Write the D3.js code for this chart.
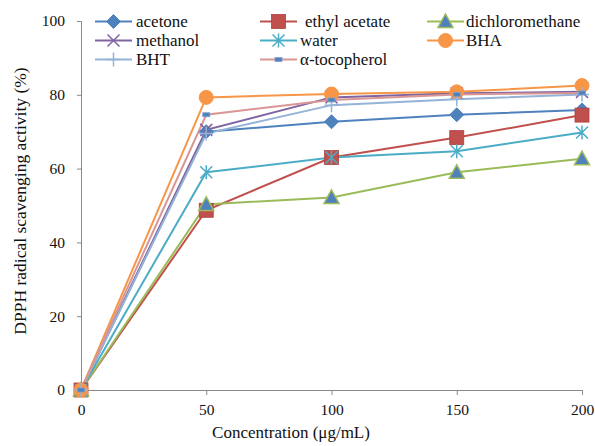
<!DOCTYPE html>
<html><head><meta charset="utf-8">
<script src="https://cdn.jsdelivr.net/npm/d3@7"></script>
<style>body{margin:0;background:#fff}svg{display:block}
svg text{font-family:"Liberation Serif","Tinos","Times New Roman","DejaVu Serif",serif !important}</style>
</head><body>
<script>
const concentrations = [0, 50, 100, 150, 200];
const seriesNames = ["acetone", "ethyl acetate", "dichloromethane", "methanol", "water", "BHA", "BHT", "α-tocopherol"];
const acetone = [0, 70.0, 72.7, 74.6, 75.9];
const ethylAcetate = [0, 48.7, 63.0, 68.4, 74.5];
const dichloromethane = [0, 50.3, 52.2, 59.0, 62.7];
const methanol = [0, 70.5, 79.3, 80.4, 80.8];
const water = [0, 59.0, 63.0, 64.7, 69.8];
const bha = [0, 79.3, 80.2, 80.8, 82.5];
const bht = [0, 69.5, 77.2, 78.8, 80.1];
const tocopherol = [0, 74.6, 78.6, 80.1, 80.5];
const yTicks = [0, 20, 40, 60, 80, 100];
const xTicks = [0, 50, 100, 150, 200];

const series = [
  {name: seriesNames[0], values: acetone, color: "#4F81BD", marker: "diamond", fill: "#4F81BD"},
  {name: seriesNames[1], values: ethylAcetate, color: "#C0504D", marker: "square", fill: "#C0504D"},
  {name: seriesNames[2], values: dichloromethane, color: "#9BBB59", marker: "triangle", fill: "#4F81BD"},
  {name: seriesNames[3], values: methanol, color: "#8064A2", marker: "x", fill: "none"},
  {name: seriesNames[4], values: water, color: "#4BACC6", marker: "star", fill: "none"},
  {name: seriesNames[5], values: bha, color: "#F79646", marker: "circle", fill: "#F79646"},
  {name: seriesNames[6], values: bht, color: "#95B3D7", marker: "plus", fill: "none"},
  {name: seriesNames[7], values: tocopherol, color: "#D99694", marker: "dash", fill: "#4F81BD"}
];

const W = 595, H = 446;
const svg = d3.select("body").append("svg").attr("width", W).attr("height", H);
const x = d3.scaleLinear().domain([0, 200]).range([81, 582]);
const y = d3.scaleLinear().domain([0, 100]).range([390, 21]);

// axes
const yAxis = svg.append("g").attr("transform", "translate(81,0)")
  .call(d3.axisLeft(y).tickValues(yTicks).tickSize(4).tickPadding(12));
const xAxis = svg.append("g").attr("transform", "translate(0,390)")
  .call(d3.axisBottom(x).tickValues(xTicks).tickSize(5).tickPadding(9));
[yAxis, xAxis].forEach(g => {
  g.attr("font-family", null);
  g.selectAll("path,line").attr("stroke", "#888").attr("stroke-width", 1);
  g.selectAll("text").attr("font-size", 15.5).attr("fill", "#111");
});
xAxis.select(".domain").attr("d", "M81,0.5H582.5V5");
yAxis.select(".domain").attr("d", "M-4,21.5H0.5V390");

svg.append("text").attr("x", 291).attr("y", 438).attr("text-anchor", "middle")
  .attr("font-size", 17).attr("fill", "#111")
  .text("Concentration (μg/mL)");
svg.append("text").attr("transform", "translate(26,201) rotate(-90)").attr("text-anchor", "middle")
  .attr("font-size", 17.5).attr("fill", "#111")
  .text("DPPH radical scavenging activity (%)");

function drawMarker(g, s, cx, cy) {
  const c = s.color;
  switch (s.marker) {
    case "diamond":
      g.append("path").attr("d", `M${cx},${cy-7}L${cx+7},${cy}L${cx},${cy+7}L${cx-7},${cy}Z`)
        .attr("fill", s.fill).attr("stroke", c);
      break;
    case "square":
      g.append("rect").attr("x", cx - 7).attr("y", cy - 7).attr("width", 14).attr("height", 14)
        .attr("fill", s.fill).attr("stroke", "#B04040").attr("stroke-width", 0.8);
      break;
    case "triangle":
      g.append("path").attr("d", `M${cx},${cy-7.5}L${cx+7.5},${cy+6}L${cx-7.5},${cy+6}Z`)
        .attr("fill", s.fill).attr("stroke", c).attr("stroke-width", 1.5);
      break;
    case "circle":
      g.append("circle").attr("cx", cx).attr("cy", cy).attr("r", 7).attr("fill", s.fill).attr("stroke", c);
      break;
    case "x":
      g.append("path").attr("d", `M${cx-6},${cy-6}L${cx+6},${cy+6}M${cx-6},${cy+6}L${cx+6},${cy-6}`)
        .attr("stroke", c).attr("stroke-width", 1.5);
      break;
    case "star":
      g.append("path").attr("d", `M${cx-6},${cy-6}L${cx+6},${cy+6}M${cx-6},${cy+6}L${cx+6},${cy-6}M${cx},${cy-7}L${cx},${cy+7}`)
        .attr("stroke", c).attr("stroke-width", 1.5);
      break;
    case "plus":
      g.append("path").attr("d", `M${cx-7},${cy}L${cx+7},${cy}M${cx},${cy-7}L${cx},${cy+7}`)
        .attr("stroke", c).attr("stroke-width", 1.5);
      break;
    case "dash":
      g.append("rect").attr("x", cx - 3.5).attr("y", cy - 2).attr("width", 7).attr("height", 4)
        .attr("fill", s.fill).attr("stroke", "#7F9FD0").attr("stroke-width", 0.8);
      break;
  }
}

const line = d3.line().x((d, i) => x(concentrations[i])).y(d => y(d));
const plot = svg.append("g");
series.forEach(s => {
  plot.append("path").datum(s.values).attr("d", line).attr("fill", "none")
    .attr("stroke", s.color).attr("stroke-width", 2);
});
series.forEach(s => {
  const g = plot.append("g");
  s.values.forEach((v, i) => drawMarker(g, s, x(concentrations[i]), y(v)));
});

// legend
const legendCols = [95, 260, 427];
const legendRows = [21.5, 40.5, 59.5];
const textOffsets = [41, 45, 39, 41, 40, 39, 41, 40];
series.forEach((s, i) => {
  const lx = legendCols[i % 3], ly = legendRows[Math.floor(i / 3)];
  const g = svg.append("g");
  g.append("line").attr("x1", lx).attr("x2", lx + 37).attr("y1", ly).attr("y2", ly)
    .attr("stroke", s.color).attr("stroke-width", 2);
  drawMarker(g, s, lx + 18.5, ly);
  g.append("text").attr("x", lx + textOffsets[i]).attr("y", ly + 5)
    .attr("font-size", 17).attr("fill", "#111").text(s.name);
});
</script>
</body></html>
